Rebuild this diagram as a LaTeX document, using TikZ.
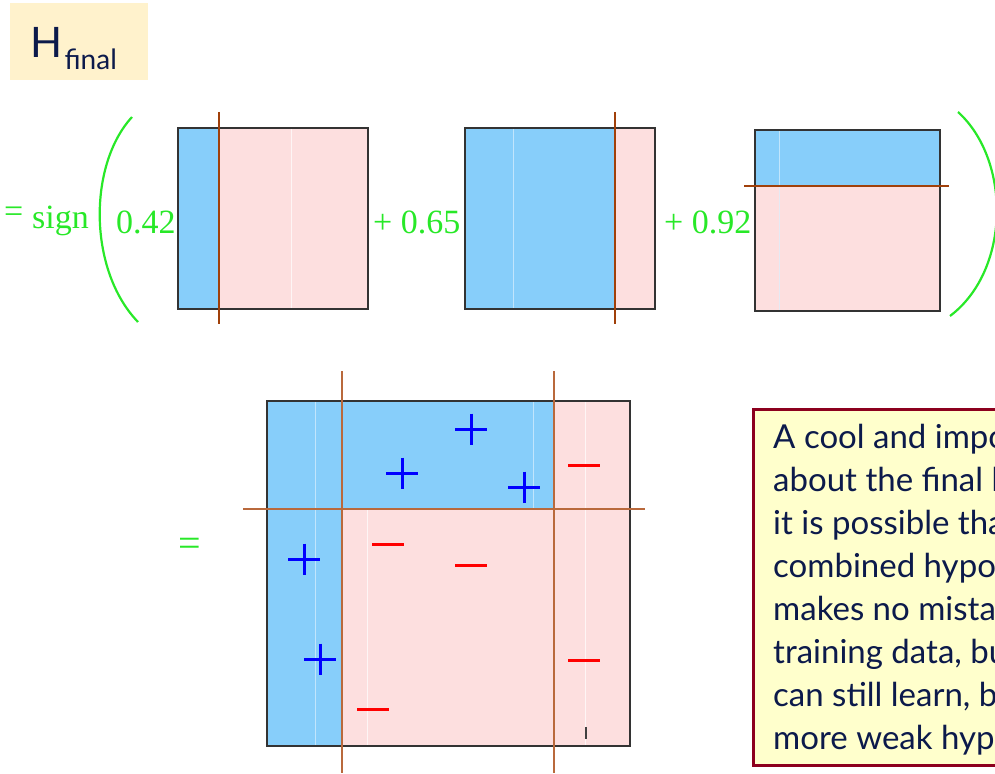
\documentclass[tikz,border=0pt]{standalone}
\usepackage{fontspec}
\setmainfont{Liberation Serif}
\newfontfamily\gill{Lato}
\definecolor{hblue}{RGB}{135,206,250}
\definecolor{hpink}{RGB}{253,223,223}
\definecolor{hgreen}{RGB}{40,232,40}
\definecolor{hbrown}{RGB}{160,64,10}
\definecolor{lbrown}{RGB}{185,105,60}
\definecolor{navy}{RGB}{12,26,75}
\definecolor{notefill}{RGB}{255,255,204}
\definecolor{noteedge}{RGB}{140,0,30}
\definecolor{titlefill}{RGB}{255,242,204}
\tikzset{
  frame/.style={draw=black!80, line width=1.3pt},
  cutbig/.style={hbrown, line width=2.6pt},
  cutsmall/.style={lbrown, line width=1.4pt},
  faint/.style={white!70!hblue, line width=0.9pt, opacity=0.7},
  gtext/.style={text=hgreen, font=\fontsize{34}{34}\selectfont, inner sep=0pt, anchor=base west},
  paren/.style={hgreen, line width=2.2pt},
  pmark/.style={blue, line width=3pt},
  mmark/.style={red, line width=3pt},
  noteline/.style={anchor=base west, inner sep=0pt, text=navy, font=\gill\fontsize{33}{33}\selectfont}
}
\begin{document}
\begin{tikzpicture}[x=1pt,y=-1pt]
\useasboundingbox (0,0) rectangle (995,773);
\clip (0,0) rectangle (995,773);

% title
\node[fill=titlefill, minimum width=138pt, minimum height=77pt, anchor=north west, inner sep=0pt] (title) at (10,3) {};
\node[anchor=base west, inner sep=0pt, text=navy, font=\gill\fontsize{42}{42}\selectfont] (H) at (30,58) {H};
\node[anchor=base west, inner sep=0pt, text=navy, font=\gill\fontsize{28}{28}\selectfont] (fin) at (H.base east) [yshift=-12pt, xshift=2pt] {final};

% top formula text
\node[gtext] (eq1) at (4,222) {=};
\node[gtext] (sign) at (32,228) {sign};
\node[gtext] (c1) at (116,233) {0.42};
\node[gtext] (c2) at (373,233) {+ 0.65};
\node[gtext] (c3) at (664,233) {+ 0.92};
\draw[paren] (132,117) .. controls (88,165) and (88,270) .. (138,322);
\draw[paren] (958,112) .. controls (1011,160) and (1011,270) .. (950,316);

% box 1
\fill[hpink] (178,128) rectangle (368,309);
\fill[hblue] (178,128) rectangle (219,309);
\draw[faint, white] (291,128) -- (291,309);
\draw[frame] (178,128) rectangle (368,309);
\draw[cutbig] (219,112) -- (219,324);

% box 2
\fill[hpink] (465,128) rectangle (655,309);
\fill[hblue] (465,128) rectangle (615,309);
\draw[faint] (513,128) -- (513,309);
\draw[frame] (465,128) rectangle (655,309);
\draw[cutbig] (615,112) -- (615,324);

% box 3
\fill[hpink] (755,130) rectangle (940,311);
\fill[hblue] (755,130) rectangle (940,186);
\draw[faint] (779,130) -- (779,311);
\draw[frame] (755,130) rectangle (940,311);
\draw[cutbig] (744,186) -- (949,186);

% bottom combined
\node[text=hgreen, font=\fontsize{40}{40}\selectfont, inner sep=0pt] (eq2) at (190,547) {=};
\fill[hpink] (267,401) rectangle (630,746);
\fill[hblue] (267,401) rectangle (342,746);
\fill[hblue] (342,401) rectangle (554,509);
\draw[faint] (315,401) -- (315,746);
\draw[faint, white] (367,509) -- (367,746);
\draw[faint] (533,401) -- (533,509);
\draw[faint, white] (585,401) -- (585,746);
\draw[frame] (267,401) rectangle (630,746);
\draw[cutsmall] (342,371) -- (342,773);
\draw[cutsmall] (554,371) -- (554,773);
\draw[cutsmall] (243,509) -- (645,509);

% plus marks
\foreach \px/\py in {471/429, 402/473, 524/487, 304/559, 320/659}{
  \draw[pmark] (\px-16,\py) -- (\px+16,\py);
  \draw[pmark] (\px,\py-15.5) -- (\px,\py+15.5);
}
% minus marks
\foreach \mx/\my in {584/465, 388/544, 471/565, 584/660, 373/709}{
  \draw[mmark] (\mx-16,\my) -- (\mx+16,\my);
}
\draw[black!75, line width=1.2pt] (586,727) -- (586,739);

% note box
\node[draw=noteedge, fill=notefill, line width=3pt, anchor=north west, minimum width=400pt, minimum height=356pt, inner sep=0pt] (note) at (752,408) {};
\node[noteline] (n1) at (773,448) {A cool and important note};
\node[noteline] (n2) at (773,491) {about the final hypothesis:};
\node[noteline] (n3) at (773,534) {it is possible that the};
\node[noteline] (n4) at (773,577) {combined hypothesis};
\node[noteline] (n5) at (773,620) {makes no mistakes on the};
\node[noteline] (n6) at (773,663) {training data, but boosting};
\node[noteline] (n7) at (773,706) {can still learn, by adding};
\node[noteline] (n8) at (773,749) {more weak hypotheses.};
\end{tikzpicture}
\end{document}
